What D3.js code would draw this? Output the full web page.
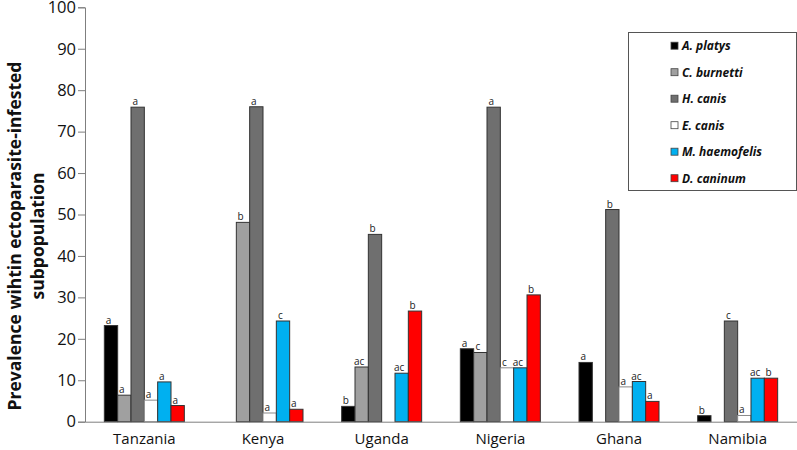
<!DOCTYPE html>
<html><head><meta charset="utf-8">
<script src="https://cdn.jsdelivr.net/npm/d3@7"></script>
<style>
body{margin:0;background:#fff;}
svg{display:block;font-family:"Open Sans",sans-serif;}
</style></head>
<body><svg id="c" width="797" height="450"></svg>
<script>
const countries = ["Tanzania","Kenya","Uganda","Nigeria","Ghana","Namibia"];
const seriesNames = ["A. platys","C. burnetti","H. canis","E. canis","M. haemofelis","D. caninum"];
const seriesColors = ["#000000","#a0a0a0","#6f6f6f","#ffffff","#00b0f0","#ff0000"];
const aPlatys     = [23.2, 0,    3.7,  17.6, 14.3, 1.45];
const cBurnetti   = [6.4,  48.1, 13.2, 16.7, 0,    0];
const hCanis      = [75.9, 76.0, 45.2, 75.9, 51.2, 24.3];
const eCanis      = [5.2,  2.1,  0,    13.0, 8.4,  1.5];
const mHaemofelis = [9.6,  24.3, 11.7, 13.0, 9.7,  10.5];
const dCaninum    = [3.9,  3.0,  26.7, 30.6, 4.9,  10.5];
const letters = [
  ["a","a","a","a","a","a"],
  ["","b","a","a","c","a"],
  ["b","ac","b","","ac","b"],
  ["a","c","a","c","ac","b"],
  ["a","","b","a","ac","a"],
  ["b","","c","a","ac","b"]
];
const yTicks = [0,10,20,30,40,50,60,70,80,90,100];

const seriesValues = [aPlatys,cBurnetti,hCanis,eCanis,mHaemofelis,dCaninum];
const svg = d3.select("#c");
const x0 = d3.scaleBand().domain(countries).range([85,797]).paddingInner(0).paddingOuter(0);
const x1 = d3.scaleBand().domain(d3.range(6)).range([0,x0.bandwidth()]).paddingInner(0).paddingOuter(1.45);
const y = d3.scaleLinear().domain([0,100]).range([421.7,7.3]);

// bars
countries.forEach((c,ci)=>{
  const g = svg.append("g").attr("transform",`translate(${x0(c)},0)`);
  seriesValues.forEach((vals,si)=>{
    const v = vals[ci];
    if(v>0){
      g.append("rect")
        .attr("x",x1(si)).attr("width",x1.bandwidth())
        .attr("y",y(v)).attr("height",y(0)-y(v))
        .attr("fill",seriesColors[si])
        .attr("stroke", si===3 ? "#8a8a8a" : "#333")
        .attr("stroke-width",1);
    }
    const L = letters[ci][si];
    if(L){
      g.append("text")
        .attr("x",x1(si)+x1.bandwidth()/2-2.5)
        .attr("y",y(v)-2)
        .attr("text-anchor","middle")
        .attr("font-size",10)
        .attr("fill","#222")
        .text(L);
    }
  });
});

// axes
const yAxis = d3.axisLeft(y).tickValues(yTicks).tickSize(7).tickPadding(2);
const ya = svg.append("g").attr("transform","translate(85,0)").call(yAxis);
ya.select(".domain").attr("stroke","#7f7f7f");
ya.selectAll(".tick line").attr("stroke","#7f7f7f");
ya.selectAll(".tick text").attr("font-size",16.5).attr("fill","#111").attr("font-family","Open Sans");

const xAxis = d3.axisBottom(x0).tickSize(0).tickPadding(12);
const xa = svg.append("g").attr("transform",`translate(0,${y(0)})`).call(xAxis);
xa.select(".domain").attr("stroke","#7f7f7f");
xa.selectAll(".tick text").attr("font-size",15).attr("fill","#111").attr("font-family","Open Sans");

// y title
const yt = svg.append("text")
  .attr("transform","translate(24,236) rotate(-90)")
  .attr("text-anchor","middle")
  .attr("font-weight","bold").attr("font-size",17.5).attr("fill","#111");
yt.append("tspan").attr("x",0).attr("dy",-3).text("Prevalence wihtin ectoparasite-infested");
yt.append("tspan").attr("x",0).attr("dy",23).text("subpopulation");

// legend
const lg = svg.append("g");
lg.append("rect").attr("x",628.5).attr("y",32.5).attr("width",168).attr("height",158)
  .attr("fill","#fff").attr("stroke","#555").attr("stroke-width",1);
seriesNames.forEach((n,i)=>{
  const cy = 45.7 + i*26.5;
  lg.append("rect").attr("x",671).attr("y",cy-3.5).attr("width",7).attr("height",7)
    .attr("fill",seriesColors[i]).attr("stroke","#444").attr("stroke-width",0.8);
  lg.append("text").attr("x",682).attr("y",cy+4.5)
    .attr("font-size",12).attr("font-weight","bold").attr("font-style","italic").attr("fill","#111")
    .text(n);
});
</script></body></html>
